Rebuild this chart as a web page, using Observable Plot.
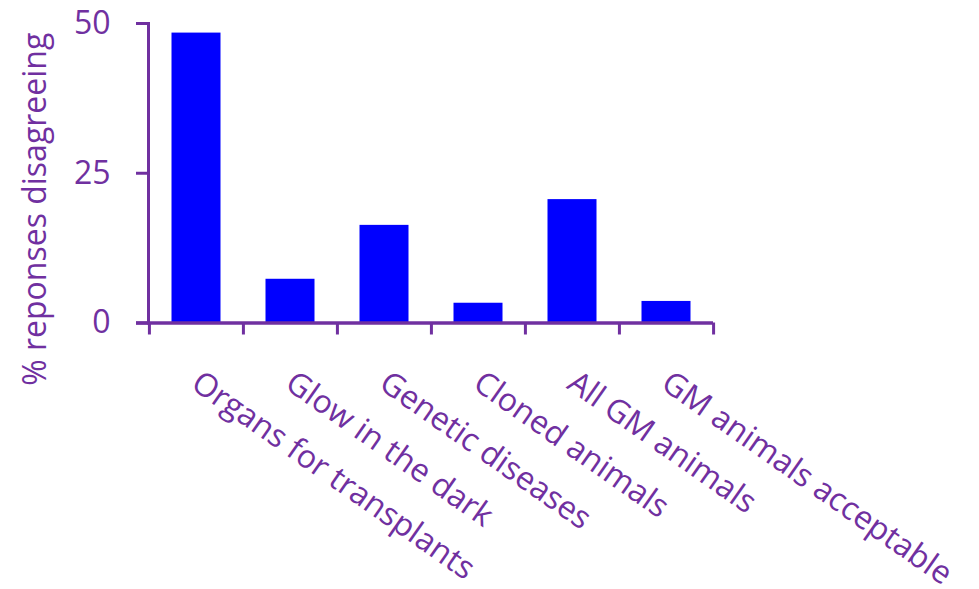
<!DOCTYPE html>
<html><head><meta charset="utf-8">
<script src="https://cdn.jsdelivr.net/npm/d3@7"></script>
<script src="https://cdn.jsdelivr.net/npm/@observablehq/plot@0.6"></script>
<style>body{margin:0;background:#fff;}</style>
</head><body><div id="chart"></div>
<script>
const categories = ["Organs for transplants", "Glow in the dark", "Genetic diseases", "Cloned animals", "All GM animals", "GM animals acceptable"];
const values = [48.4, 7.3, 16.3, 3.3, 20.6, 3.6];
const yTicks = [0, 25, 50];
const yLabel = "% reponses disagreeing";

const data = categories.map((c, i) => ({category: c, value: values[i]}));
const W = 979, H = 589, mL = 148, mR = 266, mT = 23, mB = 266.5;
const purple = "#7030A0";
const fs = 32;
const halfStep = (W - mL - mR) / categories.length / 2;

const chart = Plot.plot({
  width: W, height: H,
  marginLeft: mL, marginRight: mR, marginTop: mT, marginBottom: mB,
  style: {fontFamily: "'Open Sans'", background: "#fff"},
  x: {domain: categories, padding: 0, axis: null},
  y: {domain: [0, 50], axis: null},
  marks: [
    Plot.barY(data, {x: "category", y: "value", fill: "#0000FF", insetLeft: 22.5, insetRight: 22.5}),
    Plot.frame({anchor: "left", stroke: purple, strokeWidth: 3}),
    Plot.ruleY([0], {stroke: purple, strokeWidth: 3.5, insetLeft: -12}),
    Plot.ruleX(categories, {x: d => d, y1: 0, y2: 0, insetBottom: -12, dx: -halfStep, stroke: purple, strokeWidth: 3}),
    Plot.ruleX(categories.slice(-1), {x: d => d, y1: 0, y2: 0, insetBottom: -12, dx: halfStep, stroke: purple, strokeWidth: 3}),
    Plot.axisY({ticks: yTicks, tickSize: 12, tickPadding: 26, stroke: purple, strokeWidth: 3, fill: purple, fontSize: fs, label: null}),
    Plot.text(categories, {x: d => d, frameAnchor: "bottom", rotate: 35, textAnchor: "start", lineAnchor: "top", dx: 6, dy: 46, fill: purple, fontSize: fs}),
    Plot.text([yLabel], {frameAnchor: "left", rotate: -90, textAnchor: "middle", lineAnchor: "bottom", dx: 45 - mL, dy: 36, fill: purple, fontSize: fs})
  ]
});
document.getElementById("chart").appendChild(chart);
</script>
</body></html>
